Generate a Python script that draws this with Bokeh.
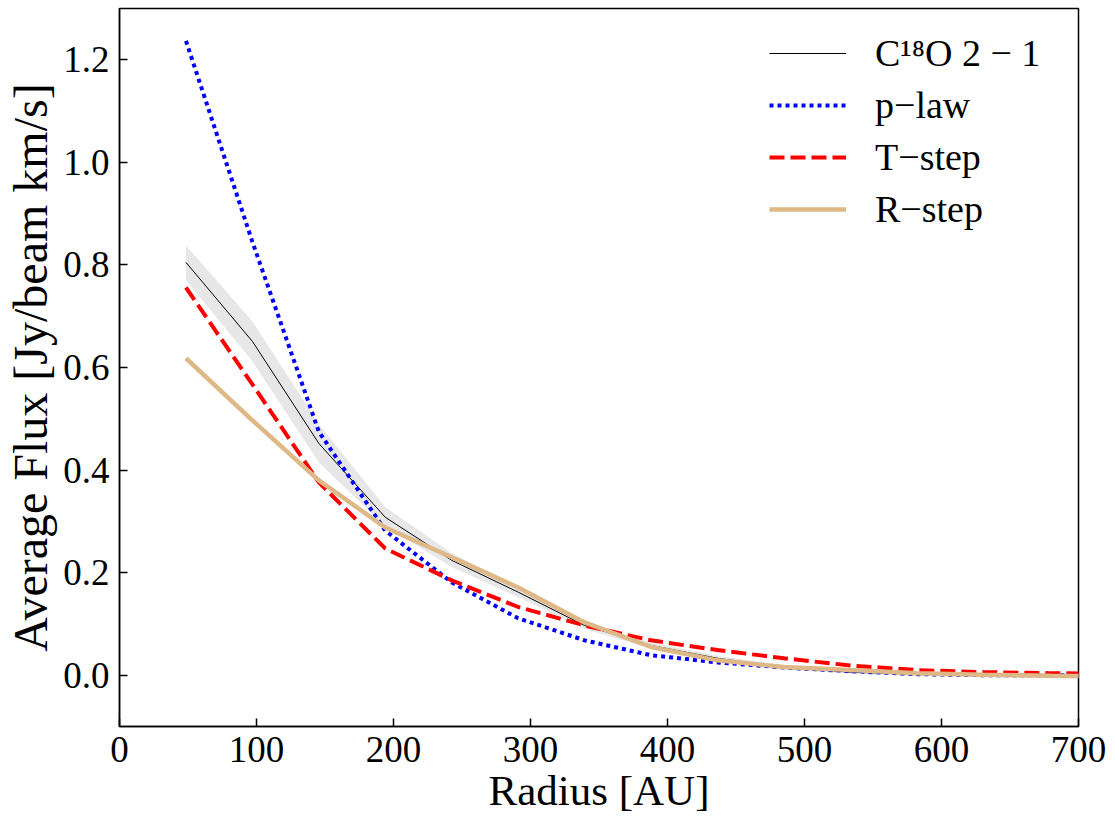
from bokeh.plotting import figure
from bokeh.models import Range1d, FixedTicker, PrintfTickFormatter, Legend, LegendItem
from bokeh.embed import file_html
from bokeh.resources import INLINE

# Radial bins [AU]
radius = [48.5, 97.0, 145.5, 194.0, 242.5, 291.0, 339.5, 388.0, 436.5,
          485.0, 533.5, 582.0, 630.5, 679.0, 727.5]

# Observed C18O 2-1 azimuthally averaged flux and its uncertainty band
obs_flux = [0.805, 0.651, 0.452, 0.308, 0.224, 0.162, 0.097, 0.058, 0.033,
            0.015, 0.006, 0.002, 0.000, -0.002, -0.004]
obs_upper = [0.838, 0.690, 0.490, 0.328, 0.238, 0.172, 0.104, 0.064, 0.038,
             0.019, 0.009, 0.005, 0.003, 0.001, 0.000]
obs_lower = [0.770, 0.612, 0.415, 0.290, 0.211, 0.152, 0.090, 0.052, 0.028,
             0.011, 0.003, -0.001, -0.003, -0.005, -0.007]

# Model profiles
plaw_flux = [1.237, 0.845, 0.475, 0.282, 0.181, 0.111, 0.068, 0.039, 0.025,
             0.015, 0.008, 0.002, 0.000, 0.000, 0.000]
tstep_flux = [0.756, 0.567, 0.376, 0.247, 0.185, 0.133, 0.097, 0.068, 0.049,
              0.033, 0.019, 0.010, 0.006, 0.004, 0.003]
rstep_flux = [0.618, 0.497, 0.380, 0.288, 0.230, 0.171, 0.103, 0.055, 0.029,
              0.016, 0.010, 0.004, 0.001, -0.001, -0.002]

x_ticks = [0, 100, 200, 300, 400, 500, 600, 700]
y_ticks = [0.0, 0.2, 0.4, 0.6, 0.8, 1.0, 1.2]

legend_labels = ["C\u00b9\u2078O 2 \u2212 1", "p\u2212law", "T\u2212step", "R\u2212step"]

FONT = "Liberation Serif"

p = figure(width=1115, height=834, output_backend="svg", toolbar_location=None,
           x_range=Range1d(0, 700), y_range=Range1d(-0.1, 1.3),
           min_border_left=119, min_border_right=37,
           min_border_top=8, min_border_bottom=108)

p.background_fill_color = "white"
p.border_fill_color = "white"
p.outline_line_color = "black"
p.outline_line_width = 1.5
p.grid.visible = False

# Uncertainty band on the observed profile
p.varea(x=radius, y1=obs_lower, y2=obs_upper, fill_color="#d3d3d3", fill_alpha=0.55)

r_obs = p.line(radius, obs_flux, line_color="black", line_width=1.0)
r_plaw = p.line(radius, plaw_flux, line_color="#0000ff", line_width=4,
                line_dash="4 4")
r_tstep = p.line(radius, tstep_flux, line_color="#ff0000", line_width=4,
                 line_dash="15 6")
r_rstep = p.line(radius, rstep_flux, line_color="#deb887", line_width=4.5)

for ax in (p.xaxis[0], p.yaxis[0]):
    ax.axis_line_width = 1.5
    ax.major_tick_in = 8
    ax.major_tick_out = 0
    ax.major_tick_line_width = 1.5
    ax.minor_tick_line_color = None
    ax.major_label_text_font = FONT
    ax.major_label_text_font_size = "37px"
    ax.major_label_text_color = "black"
    ax.axis_label_text_font = FONT
    ax.axis_label_text_font_style = "normal"
    ax.axis_label_text_color = "black"
    ax.major_label_standoff = 10

p.xaxis.ticker = FixedTicker(ticks=x_ticks)
p.yaxis.ticker = FixedTicker(ticks=y_ticks)
p.yaxis.formatter = PrintfTickFormatter(format="%.1f")

p.xaxis.axis_label = "Radius [AU]"
p.xaxis.axis_label_text_font_size = "43px"
p.xaxis.axis_label_standoff = 2
p.yaxis.axis_label = "Average Flux [Jy/beam km/s]"
p.yaxis.axis_label_text_font_size = "48px"
p.yaxis.axis_label_standoff = 3

legend = Legend(items=[LegendItem(label=lab, renderers=[r]) for lab, r in
                       zip(legend_labels, [r_obs, r_plaw, r_tstep, r_rstep])],
                location=(650, 491), margin=0, padding=0, spacing=0,
                glyph_width=77, glyph_height=52, label_height=52,
                label_standoff=29, border_line_color=None,
                background_fill_alpha=0.0,
                label_text_font=FONT, label_text_font_size="38px",
                label_text_color="black")
p.add_layout(legend)

open("out.html", "w").write(file_html(p, INLINE))
